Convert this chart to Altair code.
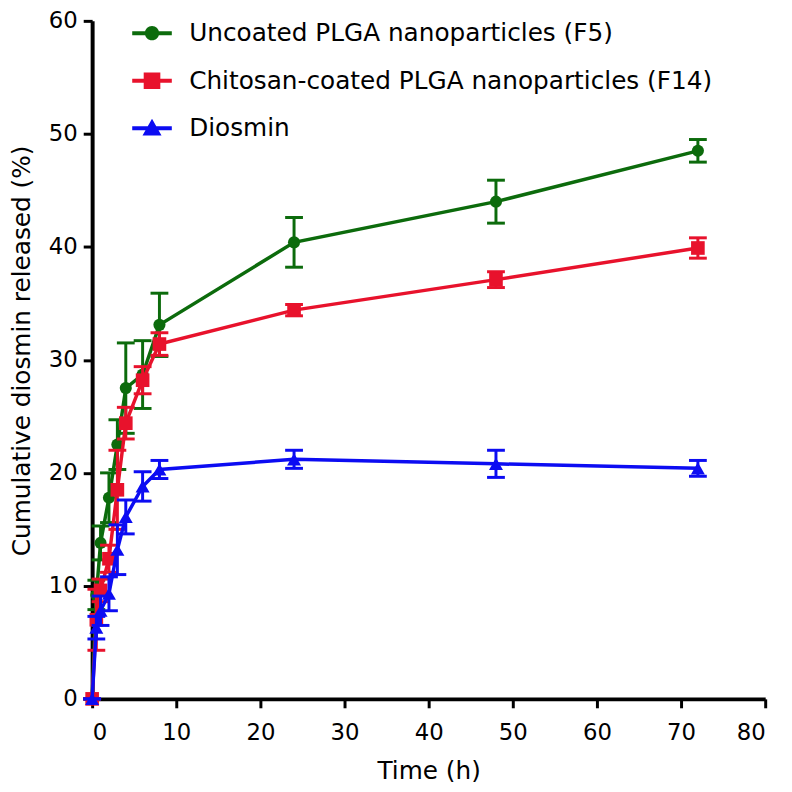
import altair as alt
import pandas as pd

# ---- data ----
time_h = [0, 0.5, 1, 2, 3, 4, 6, 8, 24, 48, 72]
series_names = [
    "Uncoated PLGA nanoparticles (F5)",
    "Chitosan-coated PLGA nanoparticles (F14)",
    "Diosmin",
]
uncoated = [0, 9.2, 13.8, 17.8, 22.5, 27.5, 28.7, 33.1, 40.4, 44.0, 48.5]
uncoated_err = [0, 1.3, 1.5, 2.2, 2.2, 4.0, 3.0, 2.8, 2.2, 1.9, 1.0]
chitosan = [0, 7.0, 9.6, 12.4, 18.5, 24.4, 28.2, 31.4, 34.4, 37.1, 39.9]
chitosan_err = [0, 2.7, 1.0, 1.2, 3.5, 1.4, 1.2, 1.0, 0.5, 0.7, 0.9]
diosmin = [0, 6.3, 7.8, 9.3, 13.2, 16.1, 18.8, 20.3, 21.2, 20.8, 20.4]
diosmin_err = [0, 1.0, 1.3, 1.5, 2.2, 1.5, 1.3, 0.8, 0.8, 1.2, 0.7]

x_ticks = [0, 10, 20, 30, 40, 50, 60, 70, 80]
y_ticks = [0, 10, 20, 30, 40, 50, 60]

colors = ["#0c6b0c", "#e8122c", "#0c0cf2"]
shapes = ["circle", "square", "triangle-up"]
sizes = [150, 190, 200]

# legend symbols: marker with a horizontal line through it (custom SVG paths)
bar = "M-2.5,-0.25H2.5V0.25H-2.5Z"
legend_paths = [
    bar + "M-0.9,0A0.9,0.9,0,1,1,0.9,0A0.9,0.9,0,1,1,-0.9,0Z",
    "M-2.5,-0.25H-1.05V-1.05H1.05V-0.25H2.5V0.25H1.05V1.05H-1.05V0.25H-2.5Z",
    bar + "M0,-1.2L1.2,0.9L-1.2,0.9Z",
]

rows = []
for name, vals, errs in zip(series_names, [uncoated, chitosan, diosmin],
                            [uncoated_err, chitosan_err, diosmin_err]):
    for t, v, e in zip(time_h, vals, errs):
        rows.append({"series": name, "time": t, "value": v, "lo": v - e, "hi": v + e})
df = pd.DataFrame(rows)

FONT = "DejaVu Sans"

x_scale = alt.Scale(domain=[0, 80], nice=False, zero=False)
y_scale = alt.Scale(domain=[0, 60], nice=False, zero=False)

x_axis = alt.Axis(
    values=x_ticks, grid=False, tickSize=9, tickWidth=3, domainWidth=4,
    domainColor="black", tickColor="black", labelColor="black",
    labelFont=FONT, labelFontSize=23, labelPadding=14,
    title="Time (h)", titleFont=FONT, titleFontSize=25, titleFontWeight="normal",
    titleColor="black", titleX=340, titleY=80, titleBaseline="alphabetic",
    titleAlign="center",
)
y_axis = alt.Axis(
    values=y_ticks, grid=False, tickSize=9, tickWidth=3, domainWidth=4,
    domainColor="black", tickColor="black", labelColor="black",
    labelFont=FONT, labelFontSize=23, labelPadding=6,
    title="Cumulative diosmin released (%)", titleFont=FONT, titleFontSize=25,
    titleFontWeight="normal", titleColor="black", titleAngle=270,
    titleX=-71, titleY=333, titleAlign="center", titleBaseline="middle",
)

base = alt.Chart(df)
X = alt.X("time:Q", scale=x_scale, axis=x_axis)
Y = alt.Y("value:Q", scale=y_scale, axis=y_axis)

layers = []
for name, col, shp, sz in zip(series_names, colors, shapes, sizes):
    sb = base.transform_filter(alt.datum.series == name)
    line = sb.mark_line(color=col, strokeWidth=3.5).encode(x=X, y=Y)
    rule = sb.mark_rule(color=col, strokeWidth=3).encode(
        x=alt.X("time:Q", scale=x_scale), y=alt.Y("lo:Q", scale=y_scale), y2="hi:Q")
    cap_lo = sb.mark_tick(color=col, orient="horizontal", size=18, thickness=3, opacity=1).encode(
        x=alt.X("time:Q", scale=x_scale), y=alt.Y("lo:Q", scale=y_scale))
    cap_hi = sb.mark_tick(color=col, orient="horizontal", size=18, thickness=3, opacity=1).encode(
        x=alt.X("time:Q", scale=x_scale), y=alt.Y("hi:Q", scale=y_scale))
    pts = sb.mark_point(filled=True, color=col, shape=shp, size=sz, opacity=1).encode(x=X, y=Y)
    layers += [line, rule, cap_lo, cap_hi, pts]

leg = alt.Legend(
    orient="none", legendX=48, legendY=0, title=None, padding=0,
    labelFont=FONT, labelFontSize=25, labelColor="black", labelLimit=1000,
    symbolSize=256, symbolStrokeWidth=0, symbolOpacity=1, labelOffset=25,
    rowPadding=22,
)
legend_layer = base.transform_filter("false").mark_point(filled=True, opacity=1).encode(
    x=alt.X("time:Q", scale=x_scale),
    y=alt.Y("value:Q", scale=y_scale),
    color=alt.Color("series:N", scale=alt.Scale(domain=series_names, range=colors), legend=leg),
    shape=alt.Shape("series:N", scale=alt.Scale(domain=series_names, range=legend_paths), legend=leg),
)
layers.append(legend_layer)

chart = alt.layer(*layers).properties(
    width=680, height=685,
    autosize=alt.AutoSizeParams(type="none"),
    padding={"left": 85, "top": 9, "right": 19, "bottom": 82},
    background="white",
).configure_view(stroke=None)

chart.save("out.html", embed_options={"renderer": "svg", "actions": False})
